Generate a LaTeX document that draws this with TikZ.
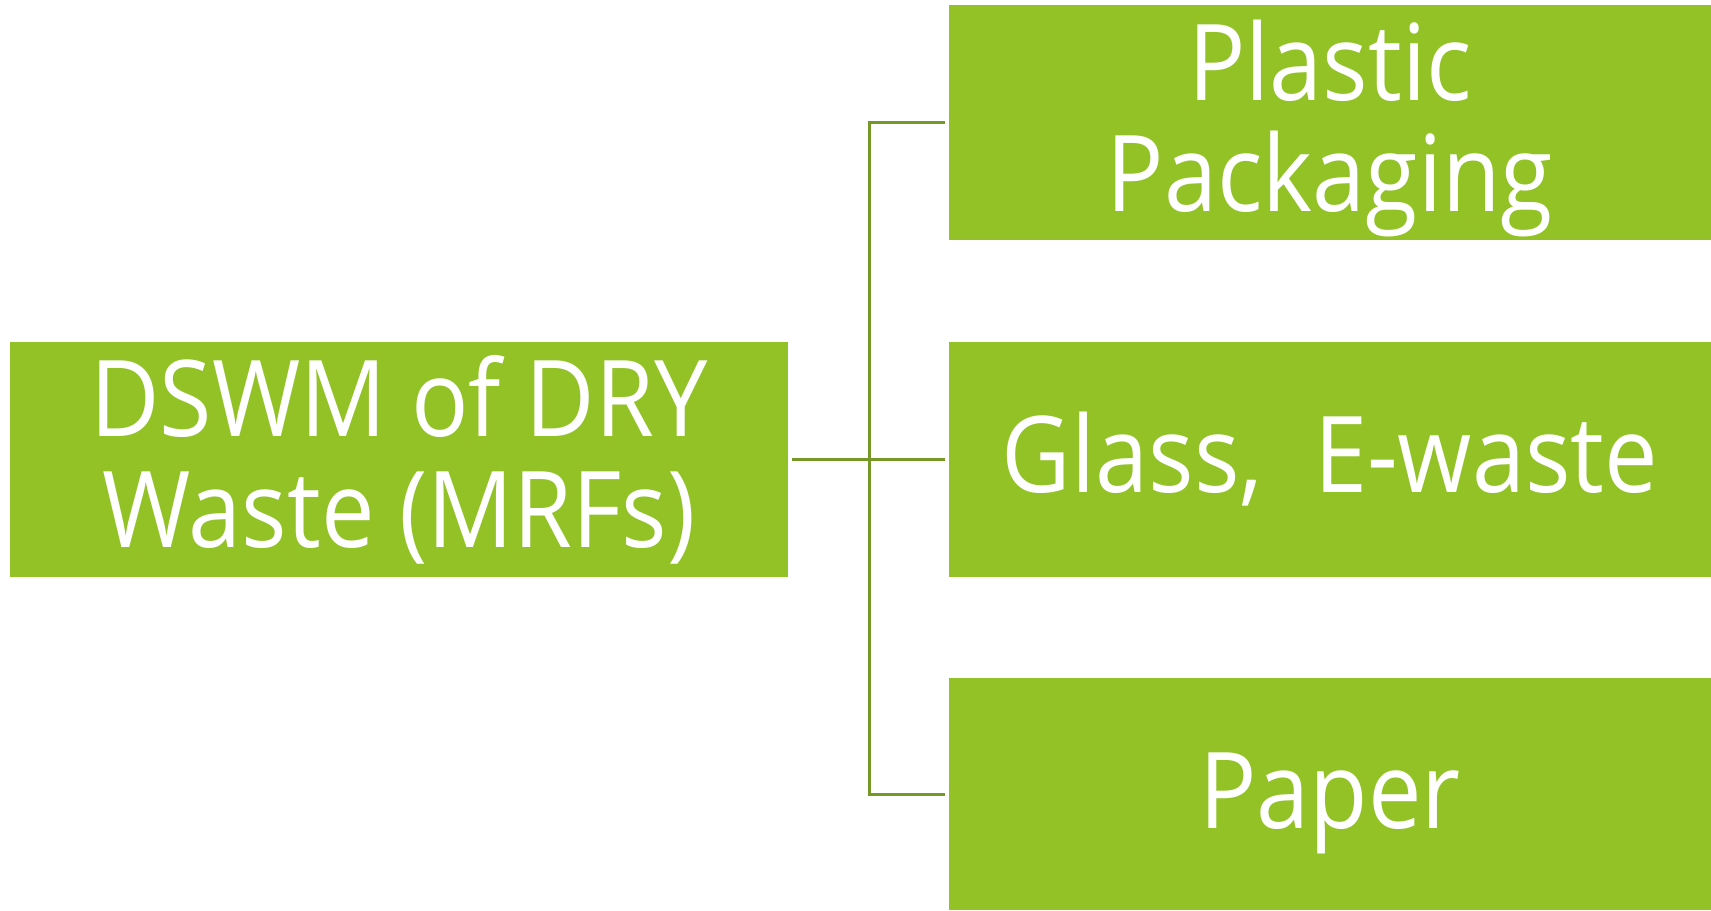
\documentclass[tikz,border=0pt]{standalone}
\usepackage{fontspec}
\setmainfont{Open Sans}[FakeStretch=0.9]
\usetikzlibrary{positioning}
\definecolor{boxgreen}{RGB}{146,194,38}
\definecolor{linkgreen}{RGB}{118,152,38}
\tikzstyle{wastebox} = [rectangle, minimum width=381pt, minimum height=117.5pt, inner sep=0pt, text centered, align=center, fill=boxgreen, text=white, font=\fontsize{53}{55.5}\selectfont]
\tikzstyle{link} = [draw=linkgreen, line width=1.5pt, shorten <=2pt, shorten >=2pt]

\begin{document}
\begin{tikzpicture}[x=0.5pt,y=-0.5pt]
\useasboundingbox (0,0) rectangle (1711,910);

\node (dry) [wastebox, minimum width=389pt] at (399,459.5) {DSWM of DRY\\Waste (MRFs)};
\node (plastic) [wastebox, text height=101pt, text depth=12.5pt] at (1330,122.5) {Plastic\\Packaging};
\node (glass) [wastebox] at (1330,459.5) {Glass,\hspace{0.25em} E-waste};
\node (paper) [wastebox, minimum height=116pt, text height=40pt, text depth=6pt] at (1330,794) {Paper};

\coordinate (trunk) at (869,459.5);

\draw [link] (dry) -- (glass);
\draw [link] (plastic.west) -| (trunk) |- (paper.west);

\end{tikzpicture}
\end{document}
